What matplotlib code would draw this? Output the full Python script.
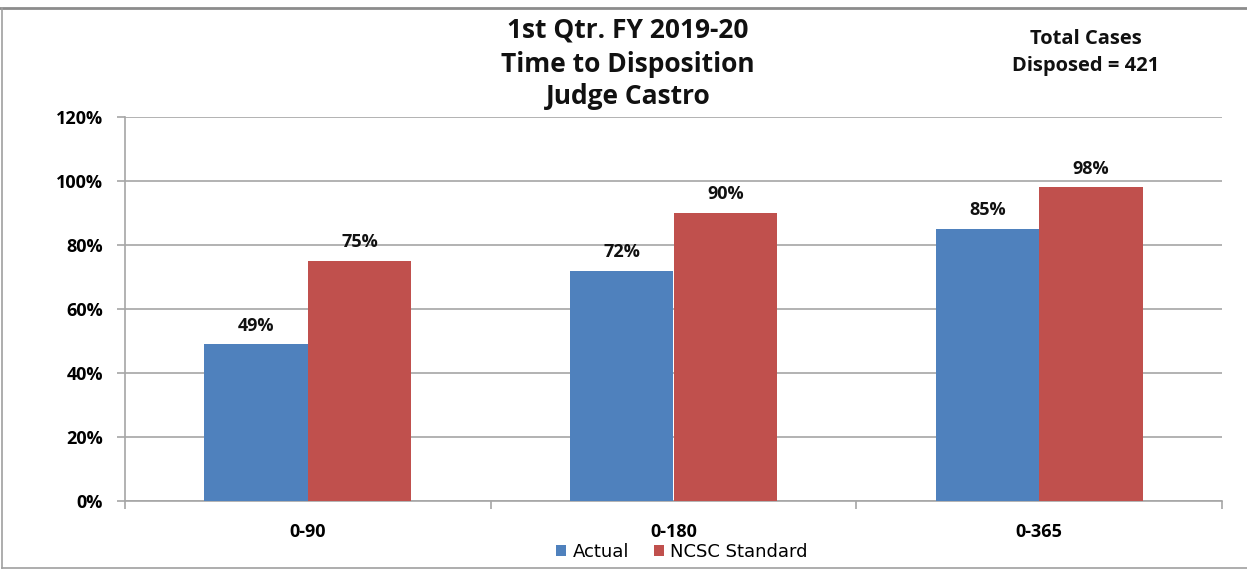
import matplotlib
matplotlib.use("Agg")
import matplotlib.pyplot as plt
from matplotlib.lines import Line2D
import numpy as np

categories = ["0-90", "0-180", "0-365"]
actual = [49, 72, 85]
ncsc = [75, 90, 98]
series_names = ["Actual", "NCSC Standard"]
yticks = [0, 20, 40, 60, 80, 100, 120]
title_lines = ["1st Qtr. FY 2019-20", "Time to Disposition", "Judge Castro"]
note_lines = ["Total Cases", "Disposed = 421"]

BLUE = "#4F81BD"
RED = "#C0504D"
GRID = "#A6A6A6"
FONT = "Open Sans"

fig = plt.figure(figsize=(12.47, 5.71), dpi=100)
ax = fig.add_axes([125/1247, 1-501/571, (1222-125)/1247, (501-117)/571])

x = np.arange(len(categories))
w = 0.283
b1 = ax.bar(x - w/2, actual, w, color=BLUE, label=series_names[0], zorder=3)
b2 = ax.bar(x + w/2, ncsc, w, color=RED, label=series_names[1], zorder=3)

for bars, vals in ((b1, actual), (b2, ncsc)):
    for r, v in zip(bars, vals):
        ax.text(r.get_x() + r.get_width()/2, v + 3.0, f"{v}%", ha="center", va="bottom",
                fontsize=13, fontweight="bold", family=FONT, color="#111111")

ax.set_xlim(-0.5, len(categories) - 0.5)
ax.set_ylim(0, 120)
ax.set_yticks(yticks)
ax.set_yticklabels([f"{t}%" for t in yticks], fontsize=13, fontweight="bold", family=FONT)
ax.yaxis.grid(True, color=GRID, linewidth=1.2, zorder=0)
ax.set_xticks(x)
ax.set_xticklabels(categories, fontsize=13, fontweight="bold", family=FONT)
ax.tick_params(axis="x", length=0, pad=16)
ax.tick_params(axis="y", length=6, color=GRID, width=1.2, pad=10)
ax.set_xticks(np.arange(-0.5, len(categories)), minor=True)
ax.tick_params(axis="x", which="minor", length=6, color=GRID, width=1.2, direction="out")
for s in ("top", "right"):
    ax.spines[s].set_visible(False)
for s in ("left", "bottom"):
    ax.spines[s].set_color(GRID)
    ax.spines[s].set_linewidth(1.2)

ty = [30, 64, 97]
for line, yy in zip(title_lines, ty):
    fig.text(628/1247, 1 - yy/571, line, ha="center", va="center", fontsize=19,
             fontweight="bold", family=FONT, color="#111111")
for line, yy in zip(note_lines, [39, 66]):
    fig.text(1086/1247, 1 - yy/571, line, ha="center", va="center", fontsize=14.5,
             fontweight="bold", family=FONT, color="#111111")

leg = fig.legend(handles=[b1, b2], labels=series_names, loc="center",
                 bbox_to_anchor=(682/1247, 1 - 552/571), ncol=2, frameon=False,
                 prop={"family": "DejaVu Sans", "size": 13}, handlelength=0.55,
                 handleheight=0.55, handletextpad=0.35, columnspacing=1.4)

# outer frame
fig.add_artist(Line2D([0, 1], [1 - 8/571, 1 - 8/571], color="#8c8c8c", lw=2, transform=fig.transFigure))
fig.add_artist(Line2D([2/1247, 2/1247], [1 - 8/571, 1 - 568/571], color="#a0a0a0", lw=1.2, transform=fig.transFigure))
fig.add_artist(Line2D([2/1247, 1], [1 - 568/571, 1 - 568/571], color="#a0a0a0", lw=1.2, transform=fig.transFigure))

fig.savefig("out.png", dpi=100)
